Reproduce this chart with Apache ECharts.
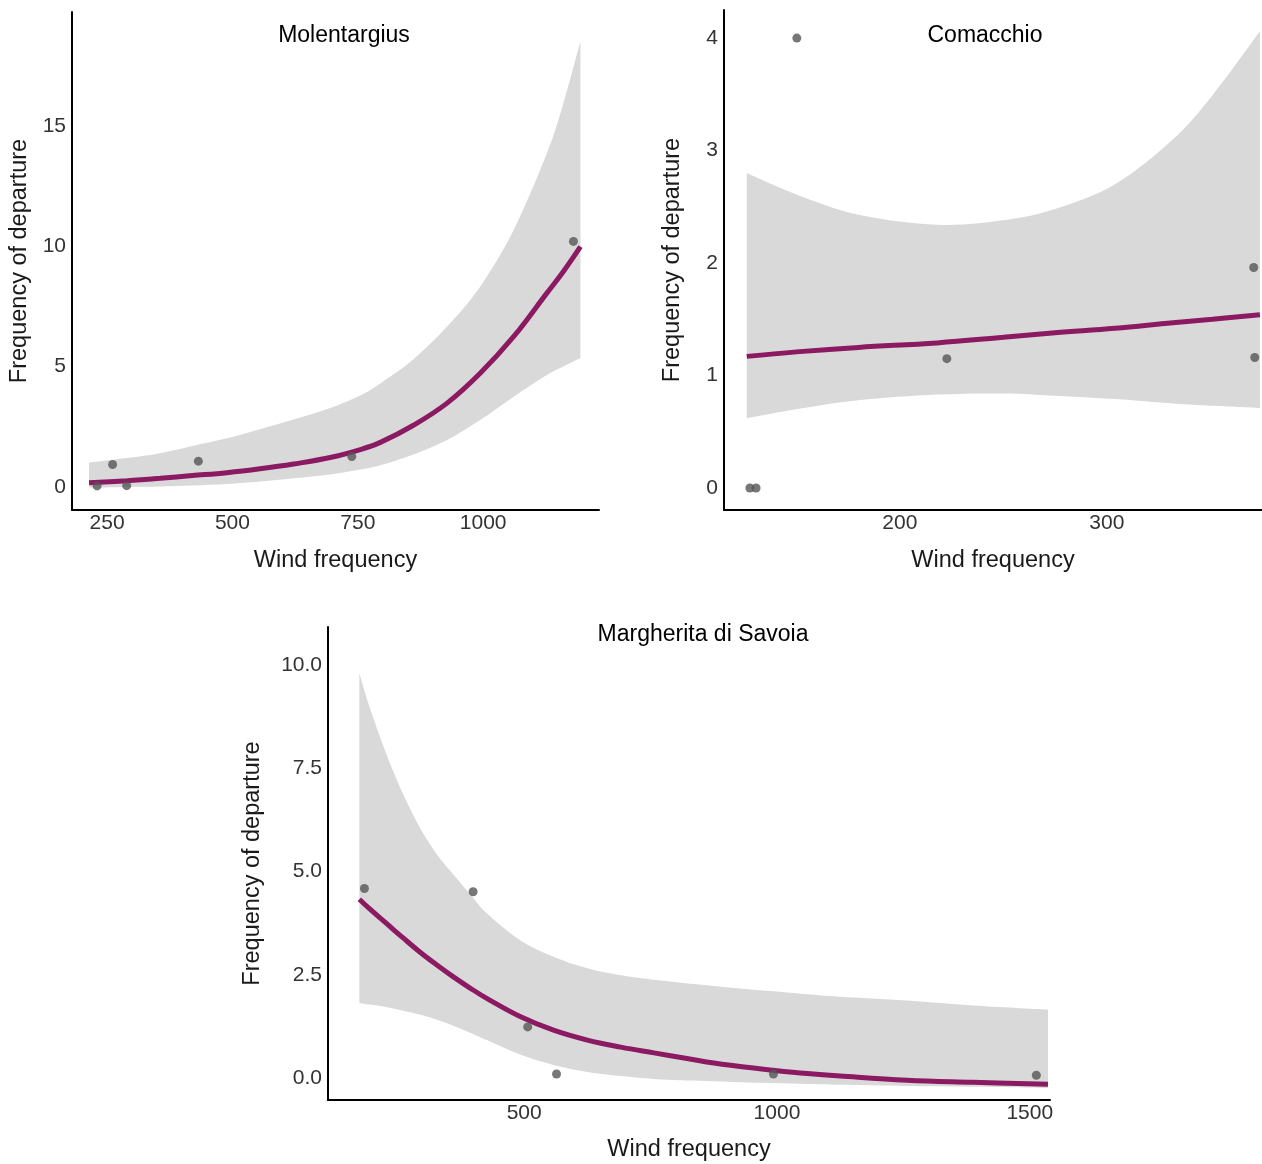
<!DOCTYPE html>
<html>
<head>
<meta charset="utf-8">
<script src="https://cdn.jsdelivr.net/npm/echarts@6/dist/echarts.min.js"></script>
<style>
  html, body { margin: 0; background: #fff; }
  #chart { width: 1262px; height: 1164px; }
</style>
</head>
<body>
<div id="chart"></div>
<script>
// Molentargius
var molPtsX = [230, 261, 289, 432, 738, 1180];
var molPtsY = [0.04, 0.93, 0.05, 1.07, 1.26, 10.2];
var molFitX = [214, 290, 356, 420, 489, 555, 622, 695, 755, 795, 861, 928, 994, 1061, 1127, 1160, 1194];
var molFitY = [0.17, 0.26, 0.36, 0.47, 0.59, 0.75, 0.95, 1.22, 1.55, 1.85, 2.56, 3.48, 4.72, 6.25, 8.05, 8.95, 9.98];
var molLowY = [-0.03, 0.0, 0.02, 0.06, 0.12, 0.22, 0.36, 0.52, 0.72, 0.9, 1.35, 1.95, 2.78, 3.75, 4.65, 5.0, 5.35];
var molUpY = [1.01, 1.2, 1.4, 1.7, 2.02, 2.4, 2.8, 3.28, 3.8, 4.3, 5.3, 6.66, 8.32, 10.68, 13.86, 15.94, 18.5];
var molXTicks = [250, 500, 750, 1000];
var molYTicks = [0, 5, 10, 15];

// Comacchio
var comPtsX = [127.5, 130.5, 150.2, 222.7, 371, 371.5];
var comPtsY = [0, 0, 4, 1.15, 1.96, 1.16];
var comFitX = [126, 150, 180, 218, 250, 275, 304, 332, 351, 374];
var comFitY = [1.17, 1.21, 1.25, 1.29, 1.34, 1.38, 1.42, 1.47, 1.5, 1.54];
var comLowY = [0.62, 0.7, 0.78, 0.83, 0.84, 0.82, 0.79, 0.75, 0.73, 0.71];
var comUpY = [2.8, 2.61, 2.43, 2.34, 2.38, 2.48, 2.7, 3.1, 3.49, 4.06];
var comXTicks = [200, 300];
var comYTicks = [0, 1, 2, 3, 4];

// Margherita di Savoia
var marPtsX = [184, 399, 507, 564, 993, 1513];
var marPtsY = [4.59, 4.51, 1.24, 0.1, 0.1, 0.07];
var marFitX = [174, 194, 227, 260, 293, 326, 360, 393, 426, 492, 558, 625, 691, 757, 810, 861, 927, 993, 1060, 1125, 1257, 1388, 1536];
var marFitY = [4.33, 4.1, 3.75, 3.4, 3.06, 2.75, 2.45, 2.18, 1.93, 1.49, 1.16, 0.92, 0.75, 0.61, 0.5, 0.39, 0.28, 0.19, 0.11, 0.05, -0.05, -0.1, -0.15];
var marLowY = [1.82, 1.78, 1.72, 1.63, 1.54, 1.42, 1.27, 1.1, 0.92, 0.57, 0.32, 0.15, 0.05, -0.02, -0.05, -0.07, -0.1, -0.12, -0.14, -0.16, -0.19, -0.21, -0.24];
var marUpY = [9.8, 8.99, 7.86, 6.89, 6.08, 5.44, 4.93, 4.45, 3.99, 3.34, 2.94, 2.66, 2.49, 2.38, 2.31, 2.25, 2.17, 2.1, 2.03, 1.97, 1.88, 1.76, 1.66];
var marXTicks = [500, 1000, 1500];
var marYTicks = [0, 2.5, 5, 7.5, 10];

var FONT = 'Liberation Sans, Arial, sans-serif';
var BAND = '#d9d9d9';
var FIT = '#8b1a62';
var PT = '#555555';

function zip(xs, ys) {
  return xs.map(function (x, i) { return [x, ys[i]]; });
}

// cubic segments through pixel points (catmull-rom style control points)
function curveTo(pts) {
  var s = '';
  for (var i = 0; i < pts.length - 1; i++) {
    var p0 = pts[Math.max(i - 1, 0)], p1 = pts[i], p2 = pts[i + 1], p3 = pts[Math.min(i + 2, pts.length - 1)];
    var c1x = p1[0] + (p2[0] - p0[0]) / 6, c1y = p1[1] + (p2[1] - p0[1]) / 6;
    var c2x = p2[0] - (p3[0] - p1[0]) / 6, c2y = p2[1] - (p3[1] - p1[1]) / 6;
    s += ' C' + c1x + ',' + c1y + ' ' + c2x + ',' + c2y + ' ' + p2[0] + ',' + p2[1];
  }
  return s;
}

function bandSeries(idx, xs, lows, ups) {
  return {
    type: 'custom', xAxisIndex: idx, yAxisIndex: idx, silent: true, z: 1,
    data: [0],
    renderItem: function (params, api) {
      var up = xs.map(function (x, i) { return api.coord([x, ups[i]]); });
      var lo = xs.map(function (x, i) { return api.coord([x, lows[i]]); }).reverse();
      var d = 'M' + up[0][0] + ',' + up[0][1] + curveTo(up) +
        ' L' + lo[0][0] + ',' + lo[0][1] + curveTo(lo) + ' Z';
      return { type: 'path', shape: { pathData: d }, style: { fill: BAND, stroke: null } };
    }
  };
}

function panelSeries(idx, fitX, fitY, lowY, upY, ptsX, ptsY) {
  return [
    bandSeries(idx, fitX, lowY, upY),
    {
      type: 'line', xAxisIndex: idx, yAxisIndex: idx,
      smooth: 0.4, showSymbol: false, silent: true,
      lineStyle: { width: 5, color: FIT },
      data: zip(fitX, fitY), z: 3
    },
    {
      type: 'scatter', xAxisIndex: idx, yAxisIndex: idx,
      symbolSize: 9, itemStyle: { color: PT },
      data: zip(ptsX, ptsY), z: 4
    }
  ];
}

function makeX(idx, min, max, ticks, gap) {
  return {
    type: 'value', gridIndex: idx, min: min, max: max, z: 10,
    name: 'Wind frequency', nameLocation: 'middle', nameGap: gap,
    nameTextStyle: { fontSize: 23.5, color: '#1a1a1a', fontFamily: FONT },
    axisLine: { show: true, onZero: false, lineStyle: { color: '#000', width: 2 } },
    axisTick: { show: false },
    splitLine: { show: false },
    axisLabel: { customValues: ticks, fontSize: 21, color: '#333', fontFamily: FONT, margin: 3,
      formatter: function (v) { return String(v); } }
  };
}

function makeY(idx, min, max, ticks, gap, fmt) {
  return {
    type: 'value', gridIndex: idx, min: min, max: max, z: 10,
    name: 'Frequency of departure', nameLocation: 'middle', nameGap: gap,
    nameTextStyle: { fontSize: 23.5, color: '#1a1a1a', fontFamily: FONT },
    axisLine: { show: true, onZero: false, lineStyle: { color: '#000', width: 2 } },
    axisTick: { show: false },
    splitLine: { show: false },
    axisLabel: { customValues: ticks, fontSize: 21, color: '#333', fontFamily: FONT, margin: 6,
      formatter: fmt || function (v) { return String(v); } }
  };
}

var chart = echarts.init(document.getElementById('chart'));

chart.setOption({
  backgroundColor: '#fff',
  animation: false,
  title: [
    { text: 'Molentargius', left: 339, top: 19, textAlign: 'center',
      textStyle: { fontSize: 23, fontWeight: 'normal', color: '#000', fontFamily: FONT } },
    { text: 'Comacchio', left: 980, top: 19, textAlign: 'center',
      textStyle: { fontSize: 23, fontWeight: 'normal', color: '#000', fontFamily: FONT } },
    { text: 'Margherita di Savoia', left: 698, top: 618, textAlign: 'center',
      textStyle: { fontSize: 23, fontWeight: 'normal', color: '#000', fontFamily: FONT } }
  ],
  grid: [
    { left: 72, top: 12, width: 527, height: 498 },
    { left: 724, top: 10, width: 538, height: 500 },
    { left: 328, top: 627, width: 722, height: 473 }
  ],
  xAxis: [
    makeX(0, 180, 1231, molXTicks, 39),
    makeX(1, 115, 375, comXTicks, 39),
    makeX(2, 112, 1540, marXTicks, 38)
  ],
  yAxis: [
    makeY(0, -0.96, 19.73, molYTicks, 40),
    makeY(1, -0.196, 4.25, comYTicks, 39),
    makeY(2, -0.53, 10.92, marYTicks, 63, function (v) { return v.toFixed(1); })
  ],
  series: []
    .concat(panelSeries(0, molFitX, molFitY, molLowY, molUpY, molPtsX, molPtsY))
    .concat(panelSeries(1, comFitX, comFitY, comLowY, comUpY, comPtsX, comPtsY))
    .concat(panelSeries(2, marFitX, marFitY, marLowY, marUpY, marPtsX, marPtsY))
});
</script>
</body>
</html>
